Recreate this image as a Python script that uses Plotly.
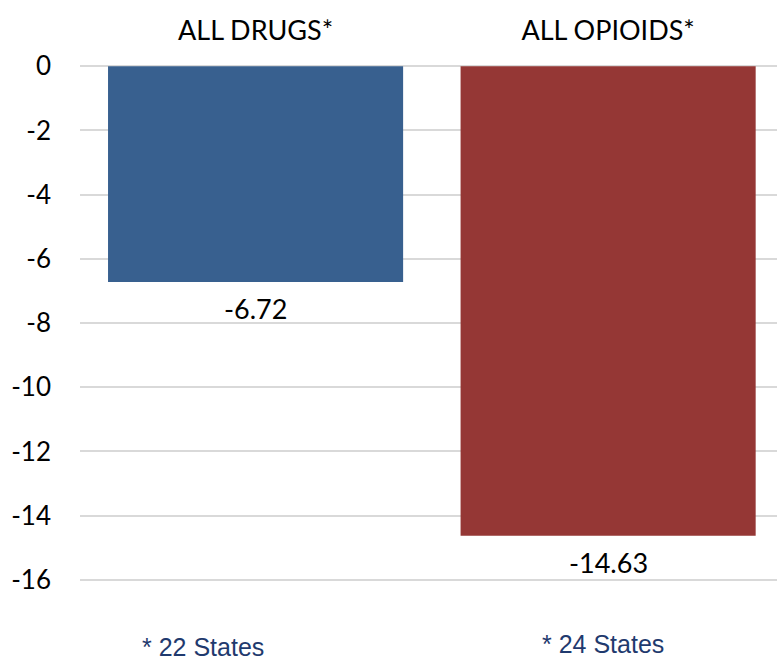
import plotly.graph_objects as go

categories = ["ALL DRUGS*", "ALL OPIOIDS*"]
values = [-6.72, -14.63]
value_labels = ["-6.72", "-14.63"]
footnotes = ["* 22 States", "* 24 States"]
bar_colors = ["#38608F", "#953735"]
y_ticks = [0, -2, -4, -6, -8, -10, -12, -14, -16]

fig = go.Figure()
fig.add_trace(go.Bar(
    x=categories, y=values, width=0.837,
    marker=dict(color=bar_colors, line=dict(width=0)),
    cliponaxis=False,
))

for c, v, t in zip(categories, values, value_labels):
    fig.add_annotation(x=c, y=v, xref="x", yref="y", text=t, showarrow=False,
                       yanchor="middle", yshift=-27,
                       font=dict(family="Lato", size=27, color="#000000"))

fig.update_layout(
    width=777, height=662,
    margin=dict(l=80, r=0, t=63, b=79),
    paper_bgcolor="white", plot_bgcolor="white",
    showlegend=False,
    xaxis=dict(side="top", range=[-0.498, 1.479], showgrid=False, showline=False,
               ticks="", tickfont=dict(family="Lato", size=27, color="#000000"),
               ticklabelstandoff=17),
    yaxis=dict(range=[-16.1, 0.1], tickvals=y_ticks, ticktext=[str(v) for v in y_ticks],
               showgrid=True, gridcolor="#D9D9D9", gridwidth=2,
               zeroline=True, zerolinecolor="#D9D9D9", zerolinewidth=2,
               ticks="", tickfont=dict(family="Lato", size=26, color="#000000"),
               ticklabelstandoff=28),
)

fig.add_annotation(x=categories[0], y=-0.1235, xref="x", yref="paper", text=footnotes[0],
                   showarrow=False, xshift=-53, yanchor="middle",
                   font=dict(family="Liberation Sans", size=25, color="#1F3A6E"))
fig.add_annotation(x=categories[1], y=-0.117, xref="x", yref="paper", text=footnotes[1],
                   showarrow=False, xshift=-5, yanchor="middle",
                   font=dict(family="Liberation Sans", size=25, color="#1F3A6E"))

fig.write_html("out.html")
